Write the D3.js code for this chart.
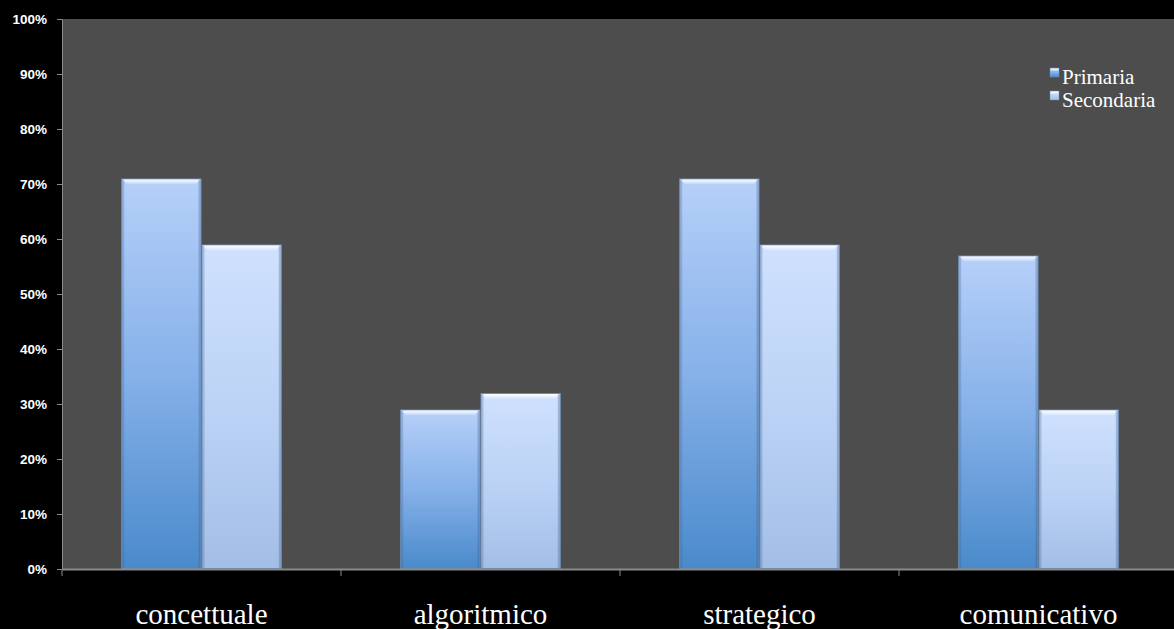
<!DOCTYPE html>
<html>
<head>
<meta charset="utf-8">
<script src="https://cdn.jsdelivr.net/npm/d3@7"></script>
<style>
  html, body { margin: 0; padding: 0; background: #000; }
  svg { display: block; }
</style>
</head>
<body>
<svg width="1174" height="629"></svg>
<script>
// chart data
const categories = ["concettuale", "algoritmico", "strategico", "comunicativo"];
const seriesNames = ["Primaria", "Secondaria"];
const primaria = [0.71, 0.29, 0.71, 0.57];
const secondaria = [0.59, 0.32, 0.59, 0.29];
const yTicks = [0, 0.1, 0.2, 0.3, 0.4, 0.5, 0.6, 0.7, 0.8, 0.9, 1];

const svg = d3.select("svg"),
    width = +svg.attr("width"),
    height = +svg.attr("height");

const margin = {left: 62, right: -4, top: 19, bottom: 60};
const plotW = width - margin.left - margin.right;
const plotH = height - margin.top - margin.bottom;

const x = d3.scaleBand().domain(categories).range([margin.left, margin.left + plotW]).paddingInner(0).paddingOuter(0);
const xs = d3.scaleBand().domain(seriesNames).range([0, x.bandwidth()]).paddingInner(0).paddingOuter(0.7375);
const y = d3.scaleLinear().domain([0, 1]).range([margin.top + plotH, margin.top]);

// gradients
const defs = svg.append("defs");
const grads = [
  {id: "g0", top: "#b6d0f9", mid: "#86b1e9", bot: "#4a8acb"},
  {id: "g1", top: "#cfe1fd", mid: "#bcd3f6", bot: "#a3bee6"}
];
grads.forEach(g => {
  const lg = defs.append("linearGradient").attr("id", g.id).attr("x1", 0).attr("y1", 0).attr("x2", 0).attr("y2", 1);
  lg.append("stop").attr("offset", "0%").attr("stop-color", g.top);
  lg.append("stop").attr("offset", "50%").attr("stop-color", g.mid);
  lg.append("stop").attr("offset", "100%").attr("stop-color", g.bot);
});
const hl = defs.append("linearGradient").attr("id", "hl").attr("x1", 0).attr("y1", 0).attr("x2", 0).attr("y2", 1);
hl.append("stop").attr("offset", "0%").attr("stop-color", "#ffffff").attr("stop-opacity", 0.95);
hl.append("stop").attr("offset", "100%").attr("stop-color", "#ffffff").attr("stop-opacity", 0.1);

// plot background
svg.append("rect")
    .attr("x", margin.left).attr("y", margin.top)
    .attr("width", plotW).attr("height", plotH)
    .attr("fill", "#4d4d4d");

// bars
const rows = categories.map((c, i) => ({cat: c, vals: [primaria[i], secondaria[i]]}));
const groups = svg.append("g").selectAll("g")
    .data(rows)
    .enter().append("g")
    .attr("transform", d => "translate(" + x(d.cat) + ",0)");

groups.each(function(d) {
  const g = d3.select(this);
  d.vals.forEach((v, j) => {
    const bx = xs(seriesNames[j]), bw = xs.bandwidth();
    const by = y(v), bh = y(0) - y(v);
    g.append("rect")
        .attr("x", bx + 0.5).attr("y", by + 0.5)
        .attr("width", bw - 1).attr("height", bh - 1)
        .attr("fill", "url(#g" + j + ")")
        .attr("stroke", "#6c8cb6").attr("stroke-width", 1);
    // bevel top highlight
    const b = 5;
    g.append("path")
        .attr("d", `M${bx + 1},${by + 1} L${bx + bw - 1},${by + 1} L${bx + bw - 1 - b},${by + 1 + b} L${bx + 1 + b},${by + 1 + b} Z`)
        .attr("fill", "url(#hl)");
    // side shading
    g.append("rect").attr("x", bx + 1).attr("y", by + 1).attr("width", 2).attr("height", bh - 2)
        .attr("fill", "#3a5a88").attr("opacity", 0.25);
    g.append("rect").attr("x", bx + bw - 3).attr("y", by + 1).attr("width", 2).attr("height", bh - 2)
        .attr("fill", "#3a5a88").attr("opacity", 0.3);
  });
});

// y axis
const yAxis = svg.append("g")
    .attr("transform", "translate(" + margin.left + ",0)")
    .call(d3.axisLeft(y).tickValues(yTicks).tickFormat(d3.format(".0%")).tickSize(5).tickPadding(10));
yAxis.select(".domain").attr("stroke", "#8a8a8a");
yAxis.selectAll(".tick line").attr("stroke", "#8a8a8a");
yAxis.selectAll("text")
    .attr("fill", "#fff")
    .style("font-family", "'Liberation Sans', Arial, sans-serif")
    .style("font-weight", "bold")
    .style("font-size", "13.5px");

// x axis
const xAxis = svg.append("g")
    .attr("transform", "translate(0," + y(0) + ")")
    .call(d3.axisBottom(x).tickSize(0).tickPadding(34));
xAxis.select(".domain").attr("stroke", "#8a8a8a").attr("stroke-width", 2);
xAxis.selectAll("text")
    .attr("fill", "#fff")
    .style("font-family", "'Liberation Serif', 'Times New Roman', serif")
    .style("font-size", "29px");
xAxis.selectAll(".tick").each(function(d) {
  d3.select(this).append("line")
      .attr("x1", -x.bandwidth() / 2).attr("x2", -x.bandwidth() / 2)
      .attr("y1", 0).attr("y2", 7)
      .attr("stroke", "#8a8a8a");
});

// legend
const legend = svg.append("g").attr("transform", "translate(1050,68)");
seriesNames.forEach((s, i) => {
  const lg = legend.append("g").attr("transform", "translate(0," + i * 23 + ")");
  lg.append("rect").attr("x", 0).attr("y", 0).attr("width", 9).attr("height", 9)
      .attr("fill", "url(#g" + i + ")").attr("stroke", "#6c8cb6").attr("stroke-width", 0.5);
  lg.append("rect").attr("x", 0.5).attr("y", 0.5).attr("width", 8).attr("height", 2).attr("fill", "#fff").attr("opacity", 0.7);
  lg.append("text")
      .attr("x", 12).attr("y", 16)
      .attr("fill", "#fff")
      .style("font-family", "'Liberation Serif', 'Times New Roman', serif")
      .style("font-size", "21px")
      .text(s);
});
</script>
</body>
</html>
